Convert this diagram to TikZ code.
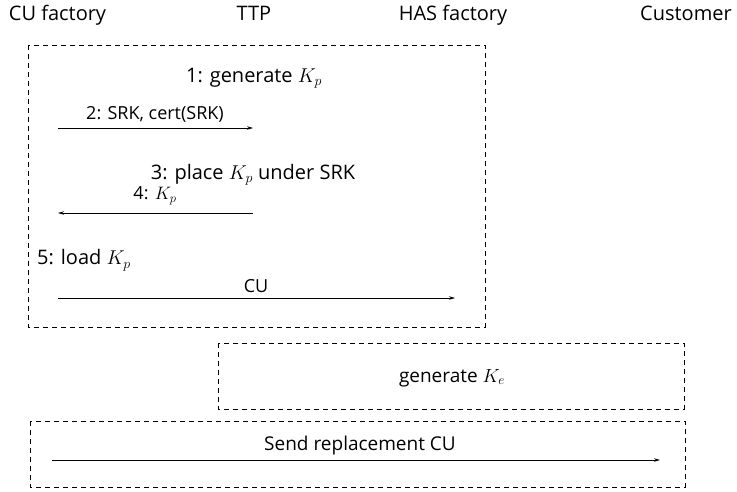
\RequirePackage{fix-cm}
\documentclass[tikz,border=0pt]{standalone}
\usepackage{fontspec}
\setmainfont{Open Sans}
\usetikzlibrary{arrows.meta}
\tikzset{
  hdr/.style={font=\fontsize{20}{24}\selectfont, inner sep=0pt, anchor=base},
  lbl/.style={font=\fontsize{20}{24}\selectfont, inner sep=0pt, anchor=base},
  mid/.style={font=\fontsize{19}{23}\selectfont, inner sep=0pt, anchor=base},
  small/.style={font=\fontsize{18}{22}\selectfont, inner sep=0pt, anchor=base},
  box/.style={draw, dash pattern=on 5pt off 4pt, line width=0.8pt},
  msg/.style={draw, line width=0.8pt, -{Stealth[length=6pt,width=3.5pt]}},
}
\begin{document}
\begin{tikzpicture}[x=1pt,y=-1pt]
\useasboundingbox (0,0) rectangle (737,492);
% headers
\node[hdr] (hcu) at (57.5,21) {CU factory};
\node[hdr] (http) at (254,21) {TTP};
\node[hdr] (hhas) at (453,21) {HAS factory};
\node[hdr] (hcust) at (686,21) {Customer};
% boxes
\draw[box] (28,45) rectangle (485,327);
\draw[box] (218,343) rectangle (684,409);
\draw[box] (30,421) rectangle (685,487);
% phase 1
\node[lbl] (t1) at (254,83) {1: generate $K_p$};
\coordinate (a2s) at (58,128);
\coordinate (a2e) at (253,128);
\node[small] (t2) at (155,120) {2: SRK, cert(SRK)};
\draw[msg] (a2s) -- (a2e);
\node[lbl] (t3) at (253,180) {3: place $K_p$ under SRK};
\node[small] (t4) at (155,200) {4: $K_p$};
\coordinate (a4s) at (253,213);
\coordinate (a4e) at (58,213);
\draw[msg] (a4s) -- (a4e);
\node[lbl, anchor=base west] (t5) at (37,265) {5: load $K_p$};
\node[small] (tcu) at (256,292) {CU};
\coordinate (a5s) at (58,298);
\coordinate (a5e) at (455,298);
\draw[msg] (a5s) -- (a5e);
% phase 2
\node[mid] (tke) at (452,382) {generate $K_e$};
% phase 3
\node[mid] (tsend) at (360,450) {Send replacement CU};
\coordinate (a6s) at (52,460);
\coordinate (a6e) at (660,460);
\draw[msg] (a6s) -- (a6e);
\end{tikzpicture}
\end{document}
